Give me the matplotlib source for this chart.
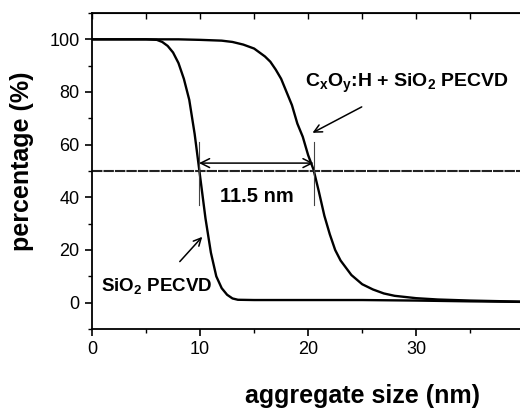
import matplotlib
matplotlib.use("Agg")
import matplotlib.pyplot as plt
from matplotlib.ticker import MultipleLocator

plt.rcParams["font.family"] = ["Liberation Sans", "DejaVu Sans"]
plt.rcParams["mathtext.fontset"] = "custom"
plt.rcParams["mathtext.rm"] = "Liberation Sans"
plt.rcParams["mathtext.bf"] = "Liberation Sans:bold"

# SiO2 PECVD curve
sio2_x = [0, 5, 6, 6.5, 7, 7.5, 8, 8.5, 9, 9.5, 10, 10.5, 11, 11.5, 12,
          12.5, 13, 13.5, 15, 20, 25, 30, 35, 39.6]
sio2_y = [100, 100, 99.8, 99, 97.5, 95, 91, 85, 77, 64, 48, 32, 19, 10, 5.5,
          3, 1.6, 1.1, 1, 1, 1, 0.8, 0.5, 0.3]

# CxOy:H + SiO2 PECVD curve
coh_x = [0, 8, 10, 12, 13, 14, 15, 15.5, 16, 16.5, 17, 17.5, 18, 18.5, 19,
         19.5, 20, 20.5, 21, 21.5, 22, 22.5, 23, 24, 25, 26, 27, 28, 30, 32,
         35, 39.6]
coh_y = [100, 100, 99.8, 99.5, 99, 98, 96.5, 95, 93.5, 91.5, 88.5, 85, 80,
         75, 68, 63, 56, 50.5, 42, 33, 26, 20, 16, 10.5, 7, 5, 3.5, 2.6, 1.7,
         1.2, 0.8, 0.4]

d50_left = 9.9
d50_right = 20.5
level = 50
gap_label = "11.5 nm"

fig = plt.figure(figsize=(5.2, 4.08), dpi=100)
ax = fig.add_axes([92 / 520, 1 - 329 / 408, 1 - 92 / 520, (329 - 13) / 408])

ax.plot(sio2_x, sio2_y, color="black", lw=1.7)
ax.plot(coh_x, coh_y, color="black", lw=1.7)
ax.axhline(level, color="#222222", lw=1.5, dashes=(5, 0.5))

for xv in (d50_left, d50_right):
    ax.plot([xv, xv], [37, 61], color="#444444", lw=0.8)
ax.annotate("", xy=(d50_left, 53), xytext=(d50_right, 53),
            arrowprops=dict(arrowstyle="<->", color="black", lw=1.1,
                            shrinkA=0, shrinkB=0, mutation_scale=16))
ax.text(15.3, 40.3, gap_label, ha="center", va="center", fontsize=14.5,
        fontweight="bold")

ax.annotate(r"C$_\mathbf{x}$O$_\mathbf{y}$:H + SiO$_\mathbf{2}$ PECVD",
            xy=(20.4, 64.5), xytext=(29.1, 83.3), ha="center", va="center",
            fontsize=14, fontweight="bold",
            arrowprops=dict(arrowstyle="->", color="black", lw=1.1,
                            shrinkA=14, shrinkB=0))
ax.annotate(r"SiO$_\mathbf{2}$ PECVD", xy=(10.2, 25), xytext=(6.0, 6.0),
            ha="center", va="center", fontsize=13.5, fontweight="bold",
            arrowprops=dict(arrowstyle="->", color="black", lw=1.1,
                            shrinkA=12, shrinkB=0))

ax.set_xlim(0, 39.6)
ax.set_ylim(-10, 110)
ax.xaxis.set_major_locator(MultipleLocator(10))
ax.xaxis.set_minor_locator(MultipleLocator(5))
ax.yaxis.set_major_locator(MultipleLocator(20))
ax.yaxis.set_minor_locator(MultipleLocator(10))
ax.tick_params(which="major", direction="out", length=5, width=1.2,
               labelsize=13, pad=4)
ax.tick_params(which="minor", direction="out", length=3, width=1.0)
ax.spines["right"].set_visible(False)
for s in ("left", "bottom", "top"):
    ax.spines[s].set_linewidth(1.3)

top = ax.secondary_xaxis("top")
top.xaxis.set_major_locator(MultipleLocator(10))
top.xaxis.set_minor_locator(MultipleLocator(5))
top.tick_params(which="both", direction="in", length=4, width=1.0,
                labeltop=False)

ax.set_ylabel("percentage (%)", fontsize=18, fontweight="bold")
ax.set_xlabel("aggregate size (nm)", fontsize=18, fontweight="bold")
ax.yaxis.set_label_coords(-0.135, 0.532)
ax.xaxis.set_label_coords(0.633, -0.174)

fig.savefig("out.png", dpi=100)
